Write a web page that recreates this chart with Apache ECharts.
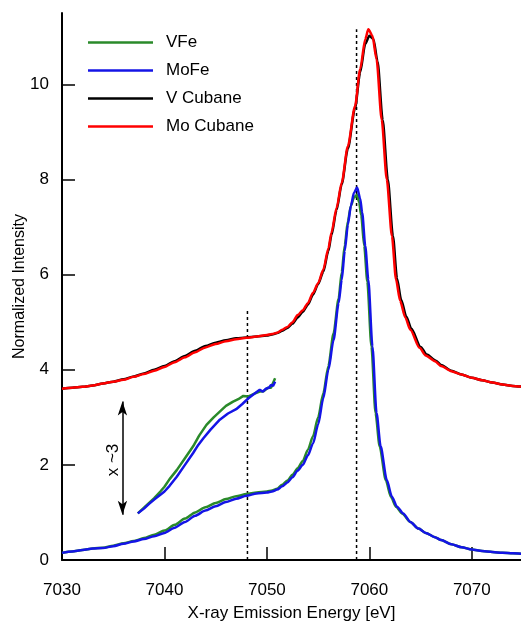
<!DOCTYPE html>
<html>
<head>
<meta charset="utf-8">
<script src="https://cdn.jsdelivr.net/npm/echarts@6/dist/echarts.min.js"></script>
<style>
  html, body { margin: 0; padding: 0; background: #fff; }
  #chart { width: 521px; height: 625px; }
</style>
</head>
<body>
<div id="chart"></div>
<script>
// energy [eV], intensity pairs
const vfe = [
  [7030,0.15],[7031,0.18],[7032,0.21],[7033,0.24],[7034,0.26],[7035,0.30],
  [7036,0.35],[7037,0.40],[7038,0.46],[7039,0.53],[7040,0.62],[7041,0.74],
  [7042,0.87],[7043,1.00],[7044,1.11],[7045,1.20],[7046,1.28],[7047,1.34],
  [7048,1.39],[7049,1.42],[7050,1.44],[7050.5,1.46],[7051,1.50],[7051.5,1.58],
  [7052,1.67],[7052.5,1.79],[7053,1.93],[7053.5,2.08],[7054,2.32],[7054.5,2.60],
  [7055,3.00],[7055.5,3.50],[7056,4.08],[7056.5,4.76],[7057,5.50],[7057.3,6.05],
  [7057.6,6.62],[7057.9,7.12],[7058.2,7.45],[7058.5,7.62],[7058.8,7.68],
  [7059.0,7.52],[7059.2,7.25],[7059.5,6.60],[7059.8,5.85],[7060.2,4.49],
  [7060.6,3.09],[7061.0,2.39],[7061.6,1.68],[7062.1,1.33],[7062.6,1.12],
  [7063.2,0.98],[7064,0.80],[7064.8,0.66],[7065.5,0.57],[7066.4,0.48],
  [7067,0.42],[7068,0.33],[7069,0.27],[7070,0.22],[7071,0.19],[7072,0.17],
  [7073,0.15],[7074,0.14],[7075,0.13]
];
const mofe = [
  [7030,0.15],[7031,0.18],[7032,0.21],[7033,0.24],[7034,0.25],[7035,0.29],
  [7036,0.34],[7037,0.39],[7038,0.44],[7039,0.50],[7040,0.57],[7041,0.68],
  [7042,0.80],[7043,0.93],[7044,1.04],[7045,1.13],[7046,1.22],[7047,1.29],
  [7048,1.35],[7049,1.40],[7050,1.42],[7050.5,1.44],[7051,1.48],[7051.5,1.55],
  [7052,1.63],[7052.5,1.74],[7053,1.88],[7053.5,2.00],[7054,2.20],[7054.5,2.45],
  [7055,2.85],[7055.5,3.40],[7056,4.00],[7056.5,4.62],[7057,5.40],[7057.3,5.89],
  [7057.6,6.50],[7057.9,7.05],[7058.2,7.45],[7058.5,7.72],[7058.8,7.83],
  [7059.1,7.60],[7059.3,7.30],[7059.6,6.60],[7059.9,5.89],[7060.3,4.49],
  [7060.7,3.09],[7061.1,2.39],[7061.7,1.68],[7062.2,1.33],[7062.7,1.12],
  [7063.3,0.98],[7064,0.80],[7064.8,0.66],[7065.5,0.57],[7066.4,0.48],
  [7067,0.42],[7068,0.33],[7069,0.27],[7070,0.22],[7071,0.19],[7072,0.17],
  [7073,0.15],[7074,0.14],[7075,0.13]
];
const vCubane = [
  [7030,3.60],[7031,3.62],[7032,3.64],[7033,3.67],[7034,3.71],[7035,3.75],
  [7036,3.80],[7037,3.86],[7038,3.92],[7039,4.00],[7040,4.08],[7041,4.18],
  [7042,4.29],[7043,4.40],[7044,4.50],[7045,4.57],[7046,4.62],[7047,4.66],
  [7048,4.68],[7049,4.70],[7050,4.72],[7050.5,4.74],[7051,4.77],[7051.5,4.82],
  [7052,4.88],[7052.5,4.97],[7053,5.10],[7053.5,5.22],[7054,5.37],[7054.5,5.58],
  [7055,5.80],[7055.5,6.06],[7056,6.50],[7056.3,6.83],[7056.8,7.36],[7057.3,7.90],
  [7057.9,8.65],[7058.6,9.50],[7059.1,10.25],[7059.6,10.85],[7060.0,11.02],
  [7060.4,10.95],[7060.8,10.48],[7061.3,9.25],[7061.8,8.00],[7062.3,6.81],
  [7062.7,5.92],[7063.1,5.47],[7063.6,5.12],[7064.1,4.86],[7065,4.48],
  [7065.6,4.32],[7066.5,4.19],[7067,4.10],[7068,3.98],[7069,3.90],[7070,3.83],
  [7071,3.78],[7072,3.73],[7073,3.69],[7074,3.66],[7075,3.64]
];
const moCubane = [
  [7030,3.60],[7031,3.62],[7032,3.64],[7033,3.67],[7034,3.71],[7035,3.75],
  [7036,3.79],[7037,3.85],[7038,3.91],[7039,3.98],[7040,4.06],[7041,4.16],
  [7042,4.26],[7043,4.37],[7044,4.47],[7045,4.54],[7046,4.60],[7047,4.64],
  [7048,4.67],[7049,4.70],[7050,4.73],[7050.5,4.75],[7051,4.78],[7051.5,4.84],
  [7052,4.90],[7052.5,5.00],[7053,5.15],[7053.5,5.25],[7054,5.40],[7054.5,5.62],
  [7055,5.82],[7055.5,6.10],[7056,6.55],[7056.3,6.88],[7056.8,7.40],[7057.3,7.93],
  [7057.9,8.70],[7058.6,9.54],[7059.1,10.32],[7059.6,10.95],[7059.9,11.16],
  [7060.3,11.02],[7060.7,10.53],[7061.2,9.26],[7061.7,8.00],[7062.2,6.81],
  [7062.6,5.90],[7063.0,5.45],[7063.5,5.10],[7064,4.84],[7064.9,4.46],
  [7065.5,4.30],[7066.4,4.18],[7067,4.08],[7068,3.97],[7069,3.90],[7070,3.83],
  [7071,3.78],[7072,3.73],[7073,3.69],[7074,3.66],[7075,3.64]
];
// pre-edge region scaled x~3
const vfeX3 = [
  [7037.4,0.98],[7038,1.10],[7038.5,1.20],[7039,1.30],[7039.6,1.44],[7040,1.54],
  [7040.5,1.70],[7041.2,1.89],[7042,2.14],[7042.8,2.39],[7043.4,2.62],[7044.1,2.84],
  [7044.8,3.00],[7045.4,3.12],[7046,3.24],[7046.7,3.33],[7047.2,3.38],[7047.7,3.45],
  [7048.2,3.44],[7048.8,3.50],[7049.3,3.54],[7049.7,3.55],[7050.1,3.62],[7050.4,3.62],
  [7050.6,3.72],[7050.8,3.82]
];
const mofeX3 = [
  [7037.4,0.98],[7038,1.08],[7038.5,1.18],[7039,1.27],[7039.6,1.37],[7040,1.44],
  [7040.5,1.56],[7041.2,1.75],[7042,2.00],[7042.8,2.25],[7043.3,2.42],[7043.8,2.56],
  [7044.5,2.74],[7045.4,2.95],[7046.2,3.08],[7047,3.17],[7047.6,3.28],[7048.2,3.40],
  [7048.8,3.50],[7049.3,3.58],[7049.6,3.54],[7049.9,3.60],[7050.2,3.62],[7050.4,3.68],
  [7050.6,3.66],[7050.8,3.75]
];
const guide1 = [[7048.1,0],[7048.1,5.26]];
const guide2 = [[7058.75,0],[7058.75,11.16]];
const arrowEnds = [[7035.9,3.33],[7035.9,0.95]];
const xTicks = [7030,7040,7050,7060,7070];
const yTicks = [0,2,4,6,8,10];

const FONT = "Liberation Sans";
const FS = 17;
const chart = echarts.init(document.getElementById("chart"));

function curve(name, data, color, smooth) {
  return {
    name: name, type: "line", data: data, symbol: "none",
    smooth: smooth, smoothMonotone: "x",
    lineStyle: { color: color, width: 2.5 }, itemStyle: { color: color },
    silent: true
  };
}
function guide(data) {
  return {
    type: "line", data: data, symbol: "none", silent: true,
    lineStyle: { color: "#000", width: 1.5, type: [3, 3] }
  };
}

const lineIcon = "path://M0,0 L65,0 L65,2.5 L0,2.5 Z";

chart.setOption({
  animation: false,
  grid: { left: 62, right: 0, top: 13, bottom: 65, containLabel: false, outerBoundsMode: "none" },
  legend: {
    data: [
      { name: "VFe", icon: lineIcon },
      { name: "MoFe", icon: lineIcon },
      { name: "V Cubane", icon: lineIcon },
      { name: "Mo Cubane", icon: lineIcon }
    ],
    orient: "vertical", left: 83, top: 29,
    itemWidth: 65, itemHeight: 20, itemGap: 11,
    textStyle: { fontFamily: FONT, fontSize: FS, color: "#000", padding: [0, 0, 0, 8] }
  },
  xAxis: {
    type: "value", min: 7030, max: 7074.8,
    name: "X-ray Emission Energy [eV]", nameLocation: "middle", nameGap: 45,
    nameMoveOverlap: false,
    nameTextStyle: { fontFamily: FONT, fontSize: FS, color: "#000" },
    axisLine: { lineStyle: { color: "#000", width: 2 } },
    axisTick: { inside: true, length: 13, customValues: xTicks, lineStyle: { color: "#000", width: 1.5 } },
    axisLabel: { customValues: xTicks, margin: 22, fontFamily: FONT, fontSize: FS, color: "#000",
                 formatter: v => String(v) },
    splitLine: { show: false }
  },
  yAxis: {
    type: "value", min: 0, max: 11.5,
    name: "Normalized Intensity", nameLocation: "middle", nameGap: 34,
    nameMoveOverlap: false,
    nameTextStyle: { fontFamily: FONT, fontSize: FS - 1, color: "#000" },
    axisLine: { show: true, lineStyle: { color: "#000", width: 2 } },
    axisTick: { show: true, inside: true, length: 13, customValues: yTicks, lineStyle: { color: "#000", width: 1.5 } },
    axisLabel: { customValues: yTicks, margin: 13, fontFamily: FONT, fontSize: FS, color: "#000" },
    splitLine: { show: false }
  },
  series: [
    guide(guide1),
    guide(guide2),
    curve("VFe", vfe, "#2a8a2a", 0.25),
    curve("MoFe", mofe, "#1414e6", 0.25),
    curve("V Cubane", vCubane, "#000000", 0.25),
    curve("Mo Cubane", moCubane, "#ff0000", 0.25),
    curve("VFe x3", vfeX3, "#2a8a2a", 0),
    curve("MoFe x3", mofeX3, "#1414e6", 0),
    {
      type: "line", data: [], silent: true,
      markLine: {
        silent: true, symbol: ["arrow", "arrow"], symbolSize: [7, 14],
        label: { show: false },
        lineStyle: { color: "#000", width: 1.5, type: "solid" },
        data: [[{ coord: arrowEnds[0] }, { coord: arrowEnds[1] }]]
      }
    }
  ],
  graphic: [{
    type: "text", x: 113, y: 460, rotation: Math.PI / 2,
    style: { text: "x ~3", fontFamily: FONT, fontSize: FS, fill: "#000", align: "center", verticalAlign: "middle" }
  }]
});
</script>
</body>
</html>
